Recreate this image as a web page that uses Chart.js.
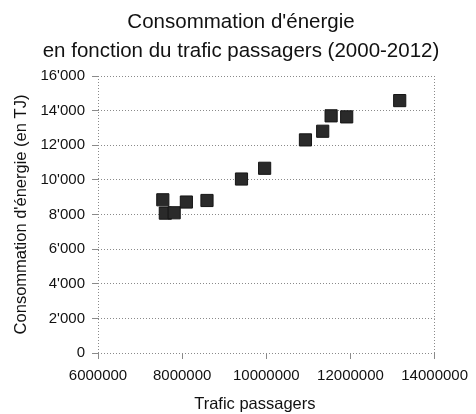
<!DOCTYPE html>
<html>
<head>
<meta charset="utf-8">
<script src="https://cdn.jsdelivr.net/npm/chart.js@4/dist/chart.umd.min.js"></script>
<style>
html,body{margin:0;padding:0;background:#fff;}
#wrap{width:476px;height:414px;}
</style>
</head>
<body>
<div id="wrap"><canvas id="c" width="476" height="414"></canvas></div>
<script>
const traffic = [7540000, 7600000, 7810000, 8100000, 8590000, 9410000, 9960000, 10930000, 11340000, 11540000, 11910000, 13170000];
const energy  = [8850, 8080, 8100, 8720, 8810, 10050, 10670, 12310, 12810, 13700, 13640, 14580];
const titleLines = ["Consommation d'énergie", "en fonction du trafic passagers (2000-2012)"];
const xTitle = "Trafic passagers";
const yTitle = "Consommation d'énergie (en TJ)";

const points = traffic.map((x, i) => ({x: x, y: energy[i]}));
const FONT = "'Liberation Sans', Arial, sans-serif";
const gridCol = '#8a8a8a';

const shiftTitle = {
  id: 'shiftTitle',
  afterLayout(chart) {
    const t = chart.titleBlock;
    if (t) { t.left = 40; t.right = 442; }
  }
};

new Chart(document.getElementById('c'), {
  type: 'scatter',
  data: { datasets: [{
    data: points,
    pointStyle: 'rect',
    pointRadius: 8.6,
    pointHoverRadius: 8.6,
    backgroundColor: '#2a2a2a',
    borderColor: '#151515',
    borderWidth: 1
  }]},
  options: {
    responsive: false,
    animation: false,
    devicePixelRatio: 1,
    layout: { padding: { left: 0, right: 38, top: 0, bottom: 0 } },
    plugins: {
      legend: { display: false },
      tooltip: { enabled: false },
      title: {
        display: true,
        text: titleLines,
        color: '#111',
        font: { family: FONT, size: 20.5, weight: 'normal', lineHeight: 1.415 },
        padding: { top: 7.5, bottom: 10.5 }
      }
    },
    scales: {
      x: {
        type: 'linear',
        min: 6000000, max: 14000000,
        afterFit: s => { s.height = 61; },
        title: { display: true, text: xTitle + '\u00a0\u00a0\u00a0\u00a0\u00a0', color: '#111', font: { family: FONT, size: 16.5, lineHeight: 1.2 }, padding: { top: 0, bottom: 0 } },
        ticks: { stepSize: 2000000, color: '#111', font: { family: FONT, size: 15 }, padding: 8,
                 maxRotation: 0, callback: v => String(v) },
        grid: {
          color: c => (c.tick && (c.tick.value === 6000000 || c.tick.value === 14000000)) ? gridCol : 'rgba(0,0,0,0)',
          tickColor: gridCol, tickLength: 6, lineWidth: 1, drawTicks: true
        },
        border: { display: false, dash: [1, 2] }
      },
      y: {
        min: 0, max: 16000,
        afterFit: s => { s.width = 98; },
        title: { display: true, text: yTitle, color: '#111', font: { family: FONT, size: 16.5, lineHeight: 1.2 }, padding: { top: 12, bottom: 0 } },
        ticks: { stepSize: 2000, color: '#111', font: { family: FONT, size: 15 }, padding: 7,
                 callback: v => v === 0 ? '0' : (Math.floor(v/1000) + "'" + String(v%1000).padStart(3,'0')) },
        grid: { color: gridCol, tickColor: gridCol, tickLength: 6, lineWidth: 1 },
        border: { display: false, dash: [1, 2] }
      }
    }
  },
  plugins: [shiftTitle]
});
</script>
</body>
</html>
